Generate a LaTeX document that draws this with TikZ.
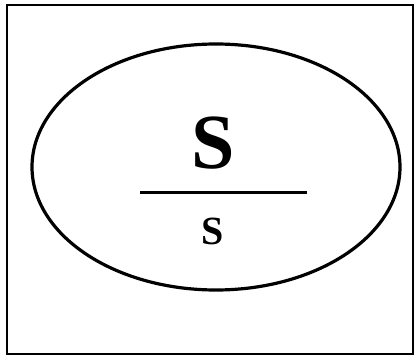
\documentclass[tikz,border=0pt]{standalone}
\usepackage{fontspec}
\setmainfont{Liberation Serif}
\usepackage{tikz}

\begin{document}
\begin{tikzpicture}[x=1pt,y=-1pt]
\useasboundingbox (0,0) rectangle (416,356);
\draw[line width=1.2pt] (7,5) rectangle (413,354);
\draw[line width=3.2pt] (216,167) ellipse [x radius=184pt, y radius=123pt];
\node[anchor=base,inner sep=0pt,font=\bfseries\fontsize{78}{78}\selectfont] (upper) at (213,168) {S};
\coordinate (barl) at (140,192);
\coordinate (barr) at (307,192);
\draw[line width=3pt] (barl)--(barr);
\node[anchor=base,inner sep=0pt,font=\bfseries\fontsize{40}{40}\selectfont] (lower) at (213,244) {S};

\end{tikzpicture}
\end{document}
